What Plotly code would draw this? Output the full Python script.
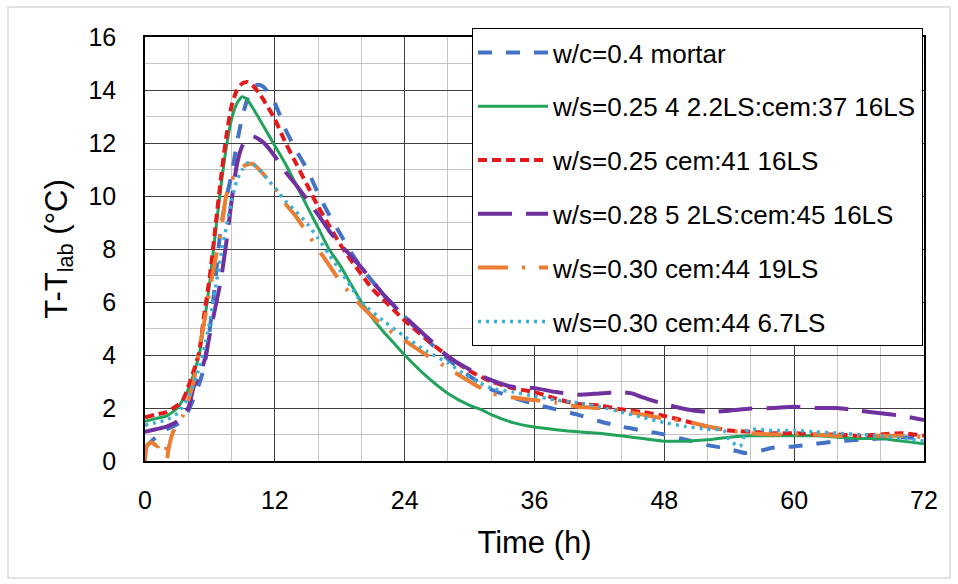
import plotly.graph_objects as go

# ---------------- data ----------------
t_mortar = [0, 1, 2, 3, 4, 5, 5.5, 6, 6.5, 7, 7.5, 8, 8.5, 9, 9.5, 10, 10.5, 11, 12, 13, 14, 15, 16, 17, 18, 19, 20, 22, 24,
            26, 28, 30, 32, 34, 36, 38, 40, 42, 44, 46, 48, 50, 52, 54, 55.5, 57, 58, 60, 62, 64, 66, 68, 70, 72]
v_mortar = [0.5, 0.9, 1.2, 1.4, 1.9, 2.9, 3.6, 5.0, 6.8, 8.8, 9.9, 10.8, 12.0, 13.0, 13.7, 14.1, 14.2, 14.1, 13.5, 12.5, 11.7,
            11.0, 10.1, 9.3, 8.6, 7.9, 7.3, 6.3, 5.45, 4.6, 3.85, 3.2, 2.7, 2.4, 2.15, 1.95, 1.75, 1.5, 1.3, 1.15, 1.0, 0.8,
            0.6, 0.45, 0.3, 0.4, 0.5, 0.55, 0.65, 0.75, 0.8, 0.85, 0.9, 0.85]

t_ls22 = [0, 1, 2, 3, 4, 5, 5.5, 6, 6.5, 7, 7.5, 8, 8.5, 9, 9.5, 10, 11, 12, 13, 14, 15, 16, 17, 18, 19, 20, 21, 22, 23, 24,
          26, 28, 30, 31, 32, 34, 36, 38, 40, 42, 44, 46, 48, 50, 52, 54, 56, 58, 60, 62, 64, 66, 68, 70, 72]
v_ls22 = [1.5, 1.6, 1.7, 2.0, 2.7, 4.0, 5.3, 6.8, 8.6, 10.3, 11.8, 12.9, 13.5, 13.75, 13.6, 13.3, 12.6, 11.9, 11.2, 10.4,
          9.6, 8.8, 8.0, 7.4, 6.7, 6.0, 5.4, 4.9, 4.45, 4.0, 3.2, 2.55, 2.1, 1.95, 1.75, 1.45, 1.28, 1.18, 1.1, 1.05, 0.95,
          0.85, 0.75, 0.75, 0.8, 0.9, 0.95, 0.95, 0.95, 0.95, 0.9, 0.85, 0.85, 0.75, 0.65]

t_c41 = [0, 1, 2, 3, 3.5, 4, 4.5, 5, 5.5, 6, 6.5, 7, 7.5, 8, 8.5, 9, 9.5, 10, 10.5, 11, 12, 13, 14, 15, 16, 17, 18, 19, 20,
         21, 22, 23, 24, 26, 28, 30, 32, 34, 36, 38, 40, 42, 44, 46, 48, 50, 52, 54, 56, 58, 60, 62, 64, 66, 68, 70, 72]
v_c41 = [1.65, 1.75, 1.85, 2.1, 2.3, 2.8, 3.4, 4.1, 5.6, 7.0, 8.8, 10.6, 12.2, 13.4, 14.0, 14.25, 14.3, 14.15, 13.9, 13.6,
         12.9, 12.0, 11.2, 10.4, 9.6, 8.9, 8.2, 7.6, 7.05, 6.5, 6.1, 5.7, 5.3, 4.6, 3.95, 3.4, 3.0, 2.75, 2.6, 2.35, 2.15,
         2.1, 1.95, 1.85, 1.7, 1.5, 1.3, 1.15, 1.1, 1.05, 1.05, 1.0, 1.0, 0.95, 1.0, 1.05, 0.95]

t_ls2 = [0, 1, 2, 3, 4, 4.5, 5, 5.5, 6, 6.5, 7, 7.5, 8, 8.5, 9, 9.5, 10, 10.5, 11, 12, 13, 14, 15, 16, 17, 18, 20, 22, 24,
         26, 28, 30, 32, 34, 36, 38, 40, 42, 44, 45, 46, 48, 50, 52, 54, 56, 58, 60, 62, 64, 66, 68, 70, 72]
v_ls2 = [1.1, 1.2, 1.3, 1.5, 2.0, 2.8, 3.2, 3.8, 4.8, 5.8, 6.8, 8.2, 9.8, 11.2, 11.9, 12.2, 12.25, 12.15, 12.0, 11.5, 10.9,
         10.4, 9.85, 9.3, 8.7, 8.2, 7.3, 6.3, 5.45, 4.7, 3.95, 3.45, 3.05, 2.8, 2.75, 2.6, 2.5, 2.55, 2.6, 2.55, 2.4, 2.15,
         1.95, 1.85, 1.9, 1.98, 2.0, 2.05, 2.0, 2.0, 1.9, 1.8, 1.7, 1.55]

t_c44_19 = [0, 0.2, 0.6, 1.2, 1.6, 1.9, 2.0, 2.2, 2.6, 3, 3.5, 4, 4.5, 5, 5.5, 6, 6.5, 7, 7.5, 8, 8.5, 9, 9.5, 10, 11, 12,
            13, 14, 15, 16, 17, 18, 19, 20, 22, 24, 26, 28, 30, 32, 34, 36, 38, 40, 42, 44, 46, 48, 50, 52, 54, 56, 58,
            60, 62, 64, 66, 68, 70, 72]
v_c44_19 = [0.0, 0.6, 0.7, 0.55, 0.75, 0.7, 0.0, 0.5, 1.1, 1.4, 1.7, 2.3, 3.0, 4.2, 5.3, 6.5, 7.6, 8.6, 10.0, 10.6, 10.9,
            11.1, 11.2, 11.2, 10.8, 10.3, 9.7, 9.2, 8.6, 8.0, 7.4, 6.8, 6.3, 5.85, 5.1, 4.55, 4.0, 3.5, 3.0, 2.55, 2.4, 2.3,
            2.2, 2.05, 2.0, 1.9, 1.75, 1.6, 1.5, 1.3, 1.15, 1.05, 1.0, 1.0, 1.0, 0.95, 0.95, 0.95, 0.95, 0.9]

t_c44_67 = [0, 1, 2, 3, 4, 5, 5.5, 6, 6.5, 7, 7.5, 8, 8.5, 9, 9.5, 10, 11, 12, 13, 14, 15, 16, 17, 18, 19, 20, 22, 24, 26,
            28, 30, 32, 34, 36, 38, 40, 42, 44, 46, 48, 50, 52, 53.5, 54, 55, 55.5, 56, 58, 60, 62, 64, 66, 68, 70, 72]
v_c44_67 = [1.35, 1.45, 1.55, 1.8, 2.4, 3.5, 4.3, 5.3, 6.5, 7.7, 8.8, 9.8, 10.6, 11.0, 11.25, 11.2, 10.8, 10.3, 9.8, 9.4,
            8.95, 8.4, 7.8, 7.2, 6.6, 6.0, 5.3, 4.7, 4.15, 3.7, 3.15, 2.75, 2.6, 2.45, 2.3, 2.2, 2.05, 1.85, 1.65, 1.45,
            1.3, 1.2, 1.15, 0.8, 0.55, 1.1, 1.2, 1.15, 1.15, 1.1, 1.05, 1.0, 0.95, 0.85, 0.75]

names = ["w/c=0.4 mortar",
         "w/s=0.25 4 2.2LS:cem:37 16LS",
         "w/s=0.25 cem:41 16LS",
         "w/s=0.28 5 2LS:cem:45 16LS",
         "w/s=0.30 cem:44 19LS",
         "w/s=0.30 cem:44 6.7LS"]

x_ticks = [0, 12, 24, 36, 48, 60, 72]
y_ticks = [0, 2, 4, 6, 8, 10, 12, 14, 16]

# ---------------- styles ----------------
colors = ["#4472C4", "#21A35C", "#E31A1C", "#7030A0", "#ED7D31", "#3BB0D6"]
dashes = ["14px,14px", "solid", "9px,5px", "34px,14px", "30px,14px,3px,14px", "3px,5px"]
widths = [4, 3, 4, 4, 4, 3.5]

series = [(t_mortar, v_mortar), (t_ls22, v_ls22), (t_c41, v_c41),
          (t_ls2, v_ls2), (t_c44_19, v_c44_19), (t_c44_67, v_c44_67)]

fig = go.Figure()
for i, (tx, vy) in enumerate(series):
    fig.add_trace(go.Scatter(
        x=tx, y=vy, mode="lines", name=names[i], legendgroup=str(i),
        line=dict(color=colors[i], dash=dashes[i], width=widths[i], shape="spline", smoothing=0.6),
    ))

FONT = "Liberation Sans, Arial, sans-serif"
W, H = 958, 584
L, R, T, B = 145, 34, 37, 123
pw, ph = W - L - R, H - T - B

def px2paper_x(px):
    return (px - L) / pw

def px2paper_y(py):
    return (H - B - py) / ph

fig.update_layout(
    width=W, height=H,
    margin=dict(l=L, r=R, t=T, b=B),
    paper_bgcolor="white", plot_bgcolor="white",
    font=dict(family=FONT, color="#000000"),
    showlegend=True,
    legend=dict(
        x=px2paper_x(472), y=px2paper_y(28), xanchor="left", yanchor="top",
        bgcolor="white", bordercolor="#000000", borderwidth=1,
        font=dict(family=FONT, size=26, color="#000000"),
        tracegroupgap=17, itemwidth=70, maxheight=420,
    ),
    xaxis=dict(
        range=[0, 72], tickvals=x_ticks, ticktext=[str(v) for v in x_ticks],
        showgrid=True, gridcolor="#3F3F3F", gridwidth=1.3,
        minor=dict(dtick=4, showgrid=True, gridcolor="#C4C4C4", gridwidth=1.3),
        zeroline=False, showline=True, linecolor="#000000", linewidth=1.5, mirror=True,
        ticks="", ticklabelstandoff=16,
        tickfont=dict(family=FONT, size=25, color="#000000"),
        title=dict(text="Time (h)", font=dict(family=FONT, size=31, color="#000000"), standoff=19),
    ),
    yaxis=dict(
        range=[0, 16], tickvals=y_ticks, ticktext=[str(v) for v in y_ticks],
        showgrid=True, gridcolor="#3F3F3F", gridwidth=1.3,
        minor=dict(dtick=1, showgrid=True, gridcolor="#C4C4C4", gridwidth=1.3),
        zeroline=False, showline=True, linecolor="#000000", linewidth=1.5, mirror=True,
        ticks="", ticklabelstandoff=22,
        tickfont=dict(family=FONT, size=25, color="#000000"),
        title=dict(text="T-T<sub>lab</sub> (°C)", font=dict(family=FONT, size=31, color="#000000"), standoff=12),
    ),
    shapes=[dict(type="rect", xref="paper", yref="paper",
                 x0=px2paper_x(8), x1=px2paper_x(950), y0=px2paper_y(578), y1=px2paper_y(7),
                 line=dict(color="#D9D9D9", width=1.5), fillcolor="rgba(0,0,0,0)", layer="below")],
)

fig.write_html("out.html")
